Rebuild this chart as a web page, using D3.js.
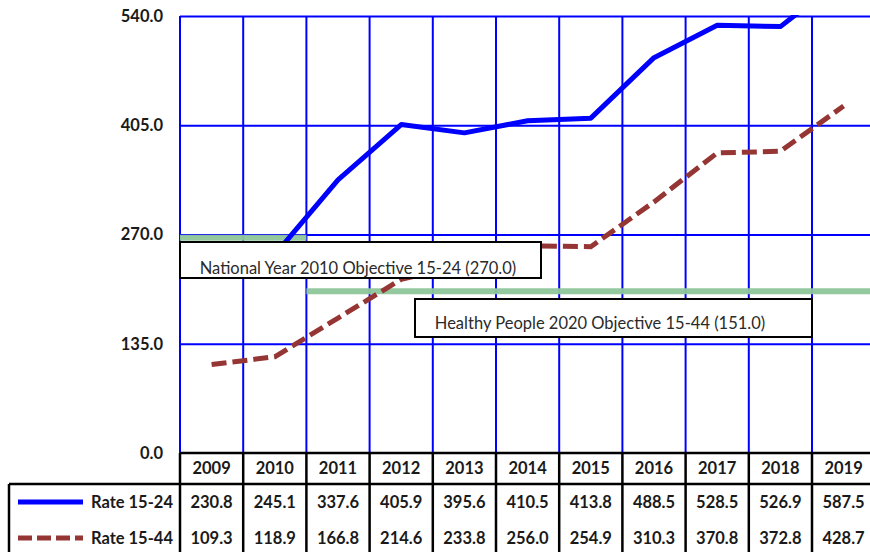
<!DOCTYPE html>
<html>
<head>
<meta charset="utf-8">
<script src="https://cdn.jsdelivr.net/npm/d3@7"></script>
<style>
  body { margin: 0; background: #fff; }
  svg { display: block; }
</style>
</head>
<body>
<script>
// dati
var years = ["2009", "2010", "2011", "2012", "2013", "2014", "2015", "2016", "2017", "2018", "2019"];
var rate1524 = [230.8, 245.1, 337.6, 405.9, 395.6, 410.5, 413.8, 488.5, 528.5, 526.9, 587.5];
var rate1544 = [109.3, 118.9, 166.8, 214.6, 233.8, 256.0, 254.9, 310.3, 370.8, 372.8, 428.7];
var yTicks = [0, 135, 270, 405, 540];
var seriesNames = ["Rate 15-24", "Rate 15-44"];

// linee obiettivo (valore dove sono disegnate, anni coperti)
var objectiveValues = [266, 200];
var objectiveYears = [["2009", "2010"], ["2011", "2019"]];
var objectiveLabels = ["National Year 2010 Objective 15-24 (270.0)", "Healthy People 2020 Objective 15-44 (151.0)"];

var width = 870, height = 552;
var plot = {left: 180, top: 16, bottom: 453, colW: 63.2};
var plotRight = plot.left + plot.colW * years.length;

var blue = "#0000ff", brown = "#963634", green = "#8fc79b";
var font = "Lato, 'Open Sans', sans-serif";

var svg = d3.select("body").append("svg")
    .attr("width", width)
    .attr("height", height);

var x = d3.scaleBand().domain(years).range([plot.left, plotRight]);
var y = d3.scaleLinear().domain([0, 540]).range([plot.bottom, plot.top]);

/* griglia orizzontale + etichette asse y */
var yAxis = svg.append("g")
    .attr("transform", `translate(${plot.left},0)`)
    .call(d3.axisLeft(y).tickValues(yTicks).tickFormat(d3.format(".1f"))
        .tickSize(-(plotRight - plot.left)).tickPadding(17));
yAxis.select(".domain").remove();
yAxis.selectAll(".tick line").attr("stroke", blue).attr("stroke-width", 2);
yAxis.selectAll(".tick text")
    .attr("fill", "#1a1a1a")
    .style("font-family", font)
    .style("font-size", "16.5px")
    .style("font-weight", "bold");
yAxis.selectAll(".tick").filter(d => d === 0).select("line").remove();

/* griglia verticale */
var bounds = years.map(d => x(d)).concat([plotRight]);
svg.append("g").selectAll("line")
    .data(bounds)
    .enter().append("line")
    .attr("x1", d => d).attr("x2", d => d)
    .attr("y1", plot.top).attr("y2", plot.bottom)
    .attr("stroke", blue).attr("stroke-width", 2);

svg.append("clipPath").attr("id", "clip")
    .append("rect")
    .attr("x", plot.left).attr("y", plot.top - 1)
    .attr("width", plotRight - plot.left).attr("height", plot.bottom - plot.top + 1);

// linee obiettivo verdi
svg.append("g").selectAll("line")
    .data(objectiveValues)
    .enter().append("line")
    .attr("x1", (d, i) => x(objectiveYears[i][0]))
    .attr("x2", (d, i) => x(objectiveYears[i][1]) + x.bandwidth())
    .attr("y1", d => y(d)).attr("y2", d => y(d))
    .attr("stroke", green).attr("stroke-width", 6).attr("opacity", 0.95);

var line = d3.line()
    .x((d, i) => x(years[i]) + x.bandwidth() / 2)
    .y(d => y(d));

var lines = svg.append("g").attr("clip-path", "url(#clip)");
lines.append("path")
    .attr("d", line(rate1524))
    .attr("fill", "none").attr("stroke", blue).attr("stroke-width", 5)
    .attr("stroke-linejoin", "round");
lines.append("path")
    .attr("d", line(rate1544))
    .attr("fill", "none").attr("stroke", brown).attr("stroke-width", 5)
    .attr("stroke-dasharray", "15 6");

/* box etichette obiettivi */
var boxes = [
    {x: 180, y: 242, w: 361, h: 36, tx: 358, ty: 274},
    {x: 415, y: 299, w: 397, h: 38, tx: 600, ty: 329}
];
boxes.forEach(function(b, i) {
    svg.append("rect")
        .attr("x", b.x).attr("y", b.y).attr("width", b.w).attr("height", b.h)
        .attr("fill", "#fff").attr("stroke", "#000").attr("stroke-width", 2);
    svg.append("text")
        .attr("x", b.tx).attr("y", b.ty)
        .attr("text-anchor", "middle")
        .attr("fill", "#2a2a2a")
        .style("font-family", font).style("font-size", "16.5px")
        .text(objectiveLabels[i]);
});

/* tabella dati */
var table = svg.append("g");
var rowY = [468, 502, 538];

table.append("line")
    .attr("x1", plot.left).attr("x2", plotRight + 5)
    .attr("y1", plot.bottom).attr("y2", plot.bottom)
    .attr("stroke", "#000").attr("stroke-width", 2.5);
table.append("line")
    .attr("x1", 9).attr("x2", plotRight + 5)
    .attr("y1", 484).attr("y2", 484)
    .attr("stroke", "#000").attr("stroke-width", 2.5);
table.append("line")
    .attr("x1", 9).attr("x2", 9)
    .attr("y1", 484).attr("y2", height + 5)
    .attr("stroke", "#000").attr("stroke-width", 2.5);
table.selectAll(".vsep")
    .data(bounds)
    .enter().append("line")
    .attr("class", "vsep")
    .attr("x1", d => d).attr("x2", d => d)
    .attr("y1", plot.bottom).attr("y2", height + 5)
    .attr("stroke", "#000").attr("stroke-width", 2.5);

function cellText(row, values) {
    table.append("g").selectAll("text")
        .data(values)
        .enter().append("text")
        .attr("x", (d, i) => x(years[i]) + x.bandwidth() / 2)
        .attr("y", rowY[row])
        .attr("dy", "0.35em")
        .attr("text-anchor", "middle")
        .attr("fill", "#1a1a1a")
        .style("font-family", font).style("font-size", "16.5px").style("font-weight", "bold")
        .text(d => typeof d === "number" ? d.toFixed(1) : d);
}
cellText(0, years);
cellText(1, rate1524);
cellText(2, rate1544);

// legenda nella tabella
var legendStyles = [{c: blue, dash: null}, {c: brown, dash: "14 5"}];
seriesNames.forEach(function(name, i) {
    table.append("line")
        .attr("x1", 18).attr("x2", 83)
        .attr("y1", rowY[i + 1]).attr("y2", rowY[i + 1])
        .attr("stroke", legendStyles[i].c).attr("stroke-width", 5)
        .attr("stroke-dasharray", legendStyles[i].dash);
    table.append("text")
        .attr("x", 173).attr("y", rowY[i + 1]).attr("dy", "0.35em")
        .attr("text-anchor", "end")
        .attr("fill", "#1a1a1a")
        .style("font-family", font).style("font-size", "16.5px").style("font-weight", "bold")
        .text(name);
});
</script>
</body>
</html>
